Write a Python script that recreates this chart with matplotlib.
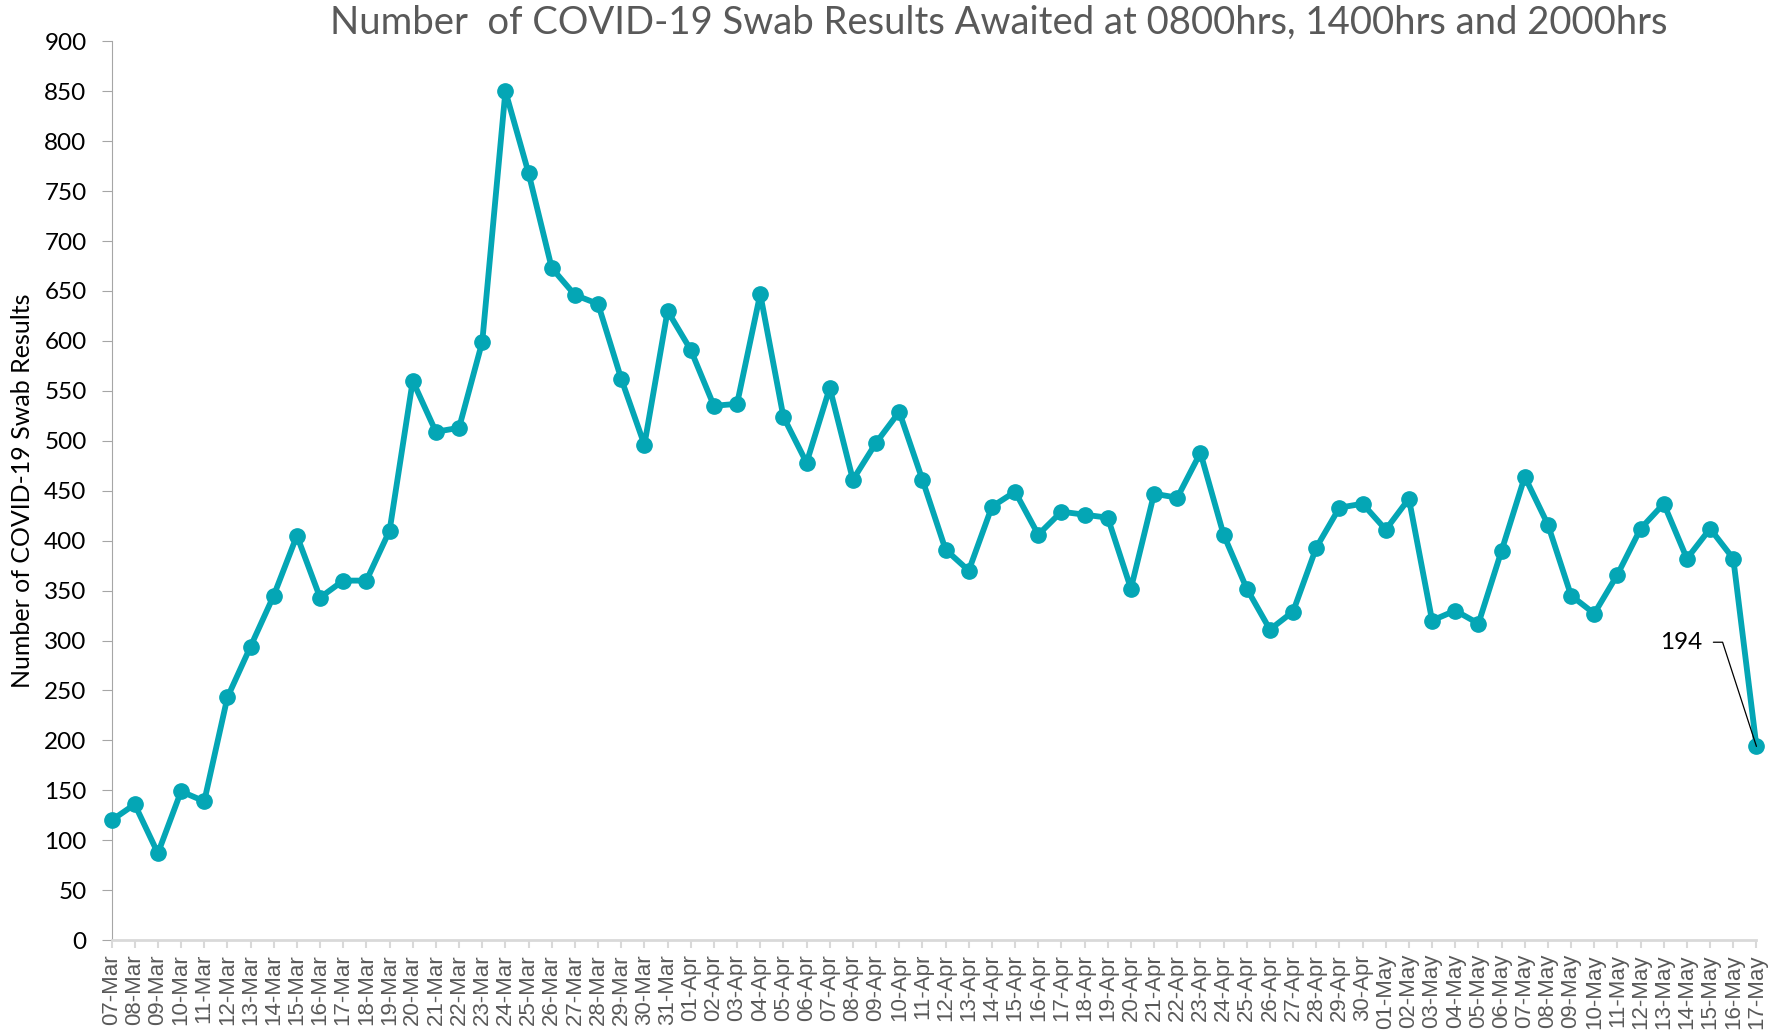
import numpy as np
import pandas as pd
from matplotlib import pyplot as plt

dates = pd.date_range("2020-03-07", "2020-05-17", freq="D")
labels = [d.strftime("%d-%b") for d in dates]

awaited = [120, 136, 87, 149, 139, 243, 294, 345, 405, 343,
           360, 360, 410, 560, 509, 513, 599, 850, 768, 673,
           646, 637, 562, 496, 630, 591, 535, 537, 647, 524,
           478, 553, 461, 498, 529, 461, 391, 370, 434, 449,
           406, 429, 426, 423, 352, 447, 443, 488, 406, 352,
           311, 329, 393, 433, 437, 411, 442, 320, 330, 317,
           390, 464, 416, 345, 327, 366, 412, 437, 382, 412,
           382, 194]

teal = "#04A6B5"
x = np.arange(len(awaited))

fig = plt.figure(figsize=(17.85, 10.32), dpi=100)
ax = fig.add_axes([0.0625, 0.089, 0.9215, 0.871])

ax.plot(x, awaited, '-o', color=teal, lw=4.2, ms=11, clip_on=False, zorder=3)

ax.set_xlim(0, len(awaited) - 1)
ax.set_ylim(0, 900)
ax.set_yticks(range(0, 901, 50))
ax.set_xticks(x)
ax.set_xticklabels(labels, rotation=90, fontsize=16, color="#595959",
                   family="Liberation Sans")
ax.tick_params(axis='y', labelsize=17.5, colors="black", length=7, color="#a6a6a6", pad=11)
ax.tick_params(axis='x', length=6, color="#d9d9d9", width=1.5, pad=4)
for t in ax.get_yticklabels():
    t.set_family("Lato")

for s in ["top", "right"]:
    ax.spines[s].set_visible(False)
ax.spines["left"].set_color("#a6a6a6")
ax.spines["bottom"].set_color("#d9d9d9")
ax.spines["bottom"].set_linewidth(2)

ax.set_ylabel("Number of COVID-19 Swab Results", fontsize=18, family="Lato", labelpad=7)
fig.text(0.5597, 0.978, "Number  of COVID-19 Swab Results Awaited at 0800hrs, 1400hrs and 2000hrs",
         ha="center", va="center", fontsize=27.5, color="#595959", family="Lato")

last = len(awaited) - 1
ax.annotate(str(awaited[last]), xy=(x[last], awaited[last]), xytext=(-39, 75),
            textcoords="offset points", fontsize=17.5, family="Lato", ha="right", va="center",
            arrowprops=dict(arrowstyle="-", color="black", lw=0.9, shrinkA=6, shrinkB=0,
                            connectionstyle="angle,angleA=0,angleB=108,rad=0"))

plt.savefig("out.png", dpi=100)
